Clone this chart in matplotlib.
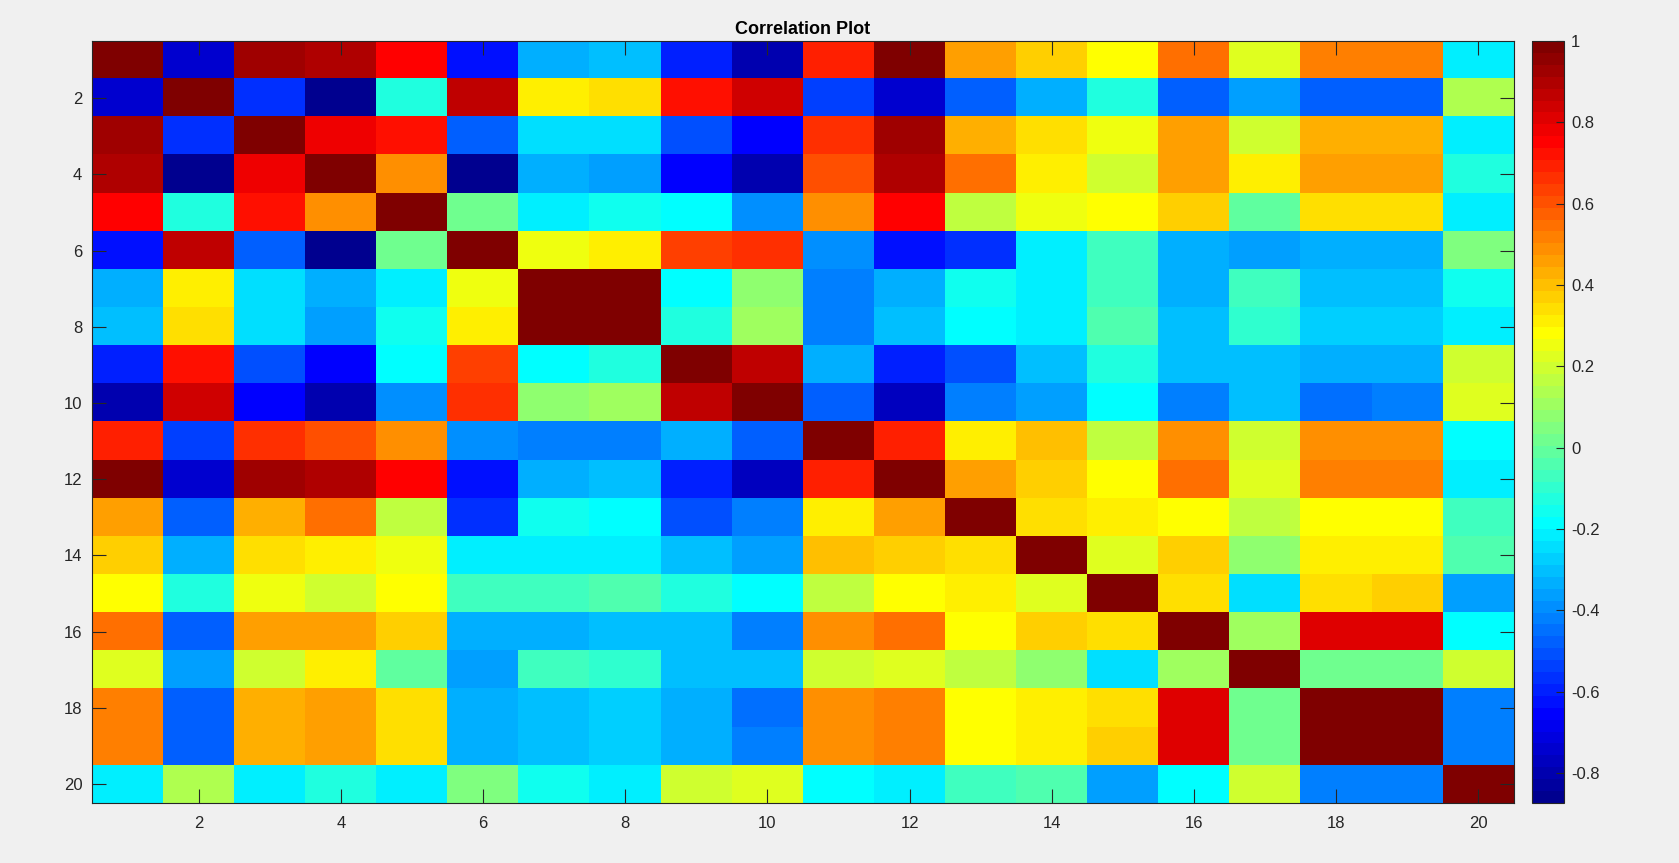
import numpy as np
import matplotlib
matplotlib.use('Agg')
import matplotlib.pyplot as plt
from matplotlib.colors import ListedColormap

# upper triangle of the correlation matrix, row by row (diagonal = 1)
upper = [
    [-0.74, 0.93, 0.90, 0.74, -0.62, -0.33, -0.30, -0.60, -0.79, 0.69, 0.98, 0.46, 0.37, 0.28, 0.55, 0.22, 0.52, 0.52, -0.21],
    [-0.57, -0.874, -0.13, 0.87, 0.31, 0.34, 0.72, 0.84, -0.55, -0.74, -0.48, -0.33, -0.13, -0.48, -0.36, -0.48, -0.48, 0.14],
    [0.78, 0.72, -0.48, -0.245, -0.245, -0.51, -0.66, 0.66, 0.93, 0.43, 0.34, 0.25, 0.46, 0.195, 0.43, 0.43, -0.21],
    [0.49, -0.85, -0.33, -0.36, -0.66, -0.80, 0.60, 0.90, 0.55, 0.31, 0.195, 0.46, 0.31, 0.46, 0.46, -0.13],
    [0.02, -0.215, -0.15, -0.186, -0.39, 0.49, 0.74, 0.17, 0.25, 0.28, 0.37, -0.01, 0.34, 0.34, -0.215],
    [0.25, 0.31, 0.63, 0.66, -0.39, -0.63, -0.57, -0.215, -0.07, -0.33, -0.36, -0.33, -0.33, 0.05],
    [0.99, -0.19, 0.08, -0.42, -0.33, -0.15, -0.215, -0.07, -0.33, -0.07, -0.30, -0.30, -0.15],
    [-0.13, 0.11, -0.42, -0.30, -0.186, -0.215, -0.04, -0.30, -0.10, -0.27, -0.27, -0.215],
    [0.87, -0.33, -0.60, -0.51, -0.30, -0.13, -0.30, -0.30, -0.33, -0.33, 0.195],
    [-0.48, -0.77, -0.42, -0.36, -0.186, -0.42, -0.30, -0.45, -0.42, 0.22],
    [0.69, 0.31, 0.40, 0.17, 0.49, 0.195, 0.49, 0.49, -0.186],
    [0.46, 0.37, 0.28, 0.55, 0.22, 0.52, 0.52, -0.215],
    [0.34, 0.31, 0.28, 0.17, 0.28, 0.28, -0.07],
    [0.22, 0.37, 0.08, 0.31, 0.31, -0.04],
    [0.34, -0.245, 0.34, 0.37, -0.36],
    [0.11, 0.81, 0.81, -0.186],
    [0.02, 0.02, 0.195],
    [0.99, -0.42],
    [-0.42],
]
n_vars = 20
x_ticks = [2, 4, 6, 8, 10, 12, 14, 16, 18, 20]
cbar_ticks = [-0.8, -0.6, -0.4, -0.2, 0, 0.2, 0.4, 0.6, 0.8, 1]
cbar_labels = ['-0.8', '-0.6', '-0.4', '-0.2', '0', '0.2', '0.4', '0.6', '0.8', '1']


def matlab_jet(m=64):
    n = int(np.ceil(m / 4))
    u = np.concatenate([np.arange(1, n + 1) / n, np.ones(n - 1), np.arange(n, 0, -1) / n])
    g = int(np.ceil(n / 2)) - (1 if m % 4 == 1 else 0) + np.arange(1, len(u) + 1)
    r = g + n
    b = g - n
    J = np.zeros((m, 3))
    for ch, idx in ((0, r), (1, g), (2, b)):
        keep = (idx >= 1) & (idx <= m)
        J[idx[keep] - 1, ch] = u[keep]
    return ListedColormap(J)


def main():
    corr = np.eye(n_vars)
    for i, row in enumerate(upper):
        for k, v in enumerate(row):
            j = i + 1 + k
            corr[i, j] = v
            corr[j, i] = v

    bg = '#f0f0f0'
    dark = '#262626'
    plt.rcParams['font.family'] = ['Liberation Sans', 'DejaVu Sans']

    fig = plt.figure(figsize=(16.79, 8.63), dpi=100, facecolor=bg)
    ax = fig.add_axes([0.0548, 0.0695, 0.8469, 0.883])
    im = ax.imshow(corr, cmap=matlab_jet(64), vmin=corr.min(), vmax=1,
                   aspect='auto', interpolation='nearest',
                   extent=(0.5, n_vars + 0.5, n_vars + 0.5, 0.5))
    ax.set_xticks(x_ticks)
    ax.set_yticks(x_ticks)
    ax.tick_params(direction='in', length=10, width=0.8, colors=dark, labelsize=12,
                   top=True, right=True)
    ax.tick_params(axis='x', pad=9)
    ax.tick_params(axis='y', pad=7)
    for s in ax.spines.values():
        s.set_color(dark)
        s.set_linewidth(0.8)
    ax.set_title('Correlation Plot', fontsize=13, fontweight='bold', pad=5)

    cax = fig.add_axes([0.9125, 0.0695, 0.019, 0.883])
    cb = fig.colorbar(im, cax=cax)
    cb.set_ticks(cbar_ticks)
    cb.set_ticklabels(cbar_labels)
    cax.tick_params(direction='in', length=6, width=0.8, colors=dark, labelsize=12, pad=5)
    cb.outline.set_edgecolor(dark)
    cb.outline.set_linewidth(0.8)

    fig.savefig('out.png', dpi=100, facecolor=bg)


if __name__ == '__main__':
    main()
